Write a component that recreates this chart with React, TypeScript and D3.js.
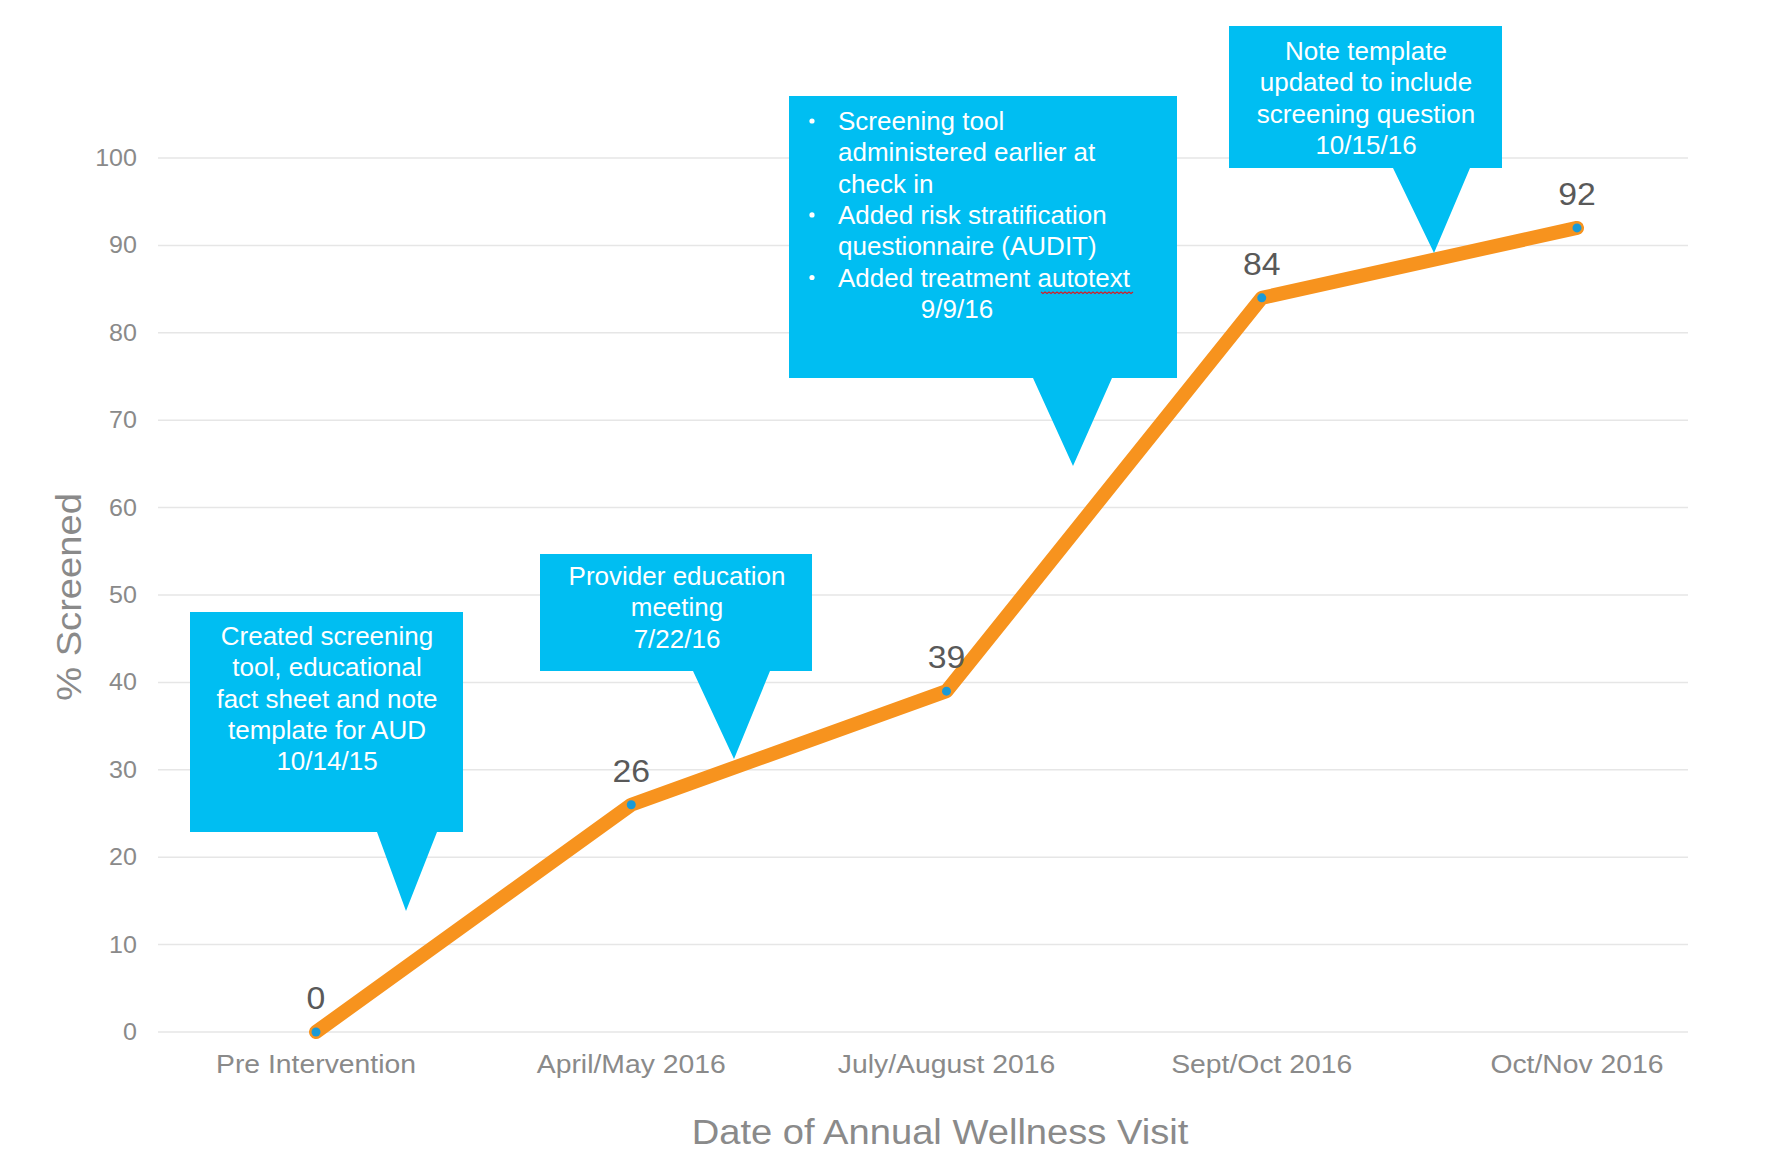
import React from "react";
import * as d3 from "d3";

const categories = ["Pre Intervention", "April/May 2016", "July/August 2016", "Sept/Oct 2016", "Oct/Nov 2016"];
const screened = [0, 26, 39, 84, 92];
const yTicks = [0, 10, 20, 30, 40, 50, 60, 70, 80, 90, 100];
const xTitle = "Date of Annual Wellness Visit";
const yTitle = "% Screened";

const note1 = ["Created screening", "tool, educational", "fact sheet and note", "template for AUD", "10/14/15"];
const note2 = ["Provider education", "meeting", "7/22/16"];
const note3Bullets = [
  ["Screening tool", "administered earlier at", "check in"],
  ["Added risk stratification", "questionnaire (AUDIT)"],
  ["Added treatment autotext"],
];
const note3Date = "9/9/16";
const note4 = ["Note template", "updated to include", "screening question", "10/15/16"];

const W = 1775;
const H = 1153;
const FONT = "'Liberation Sans', Arial, sans-serif";
const CYAN = "#00BEF2";
const STRETCH = 1.09;

function calloutPath(b: { x0: number; x1: number; y0: number; y1: number; t0: number; t1: number; tx: number; ty: number }) {
  return `M${b.x0},${b.y0} L${b.x1},${b.y0} L${b.x1},${b.y1} L${b.t1},${b.y1} L${b.tx},${b.ty} L${b.t0},${b.y1} L${b.x0},${b.y1} Z`;
}

export default function App() {
  const x = d3.scalePoint<string>().domain(categories).range([316, 1577]);
  const y = d3.scaleLinear().domain([0, 100]).range([1032, 158]);
  const gridX0 = 158;
  const gridX1 = 1688;

  const line = d3
    .line<number>()
    .x((_, i) => x(categories[i]) as number)
    .y((d) => y(d));

  const lh = 31.3;

  const c1 = { x0: 190, x1: 463, y0: 612, y1: 832, t0: 377, t1: 437, tx: 406, ty: 911 };
  const c2 = { x0: 540, x1: 812, y0: 554, y1: 671, t0: 693, t1: 770, tx: 734, ty: 759 };
  const c3 = { x0: 789, x1: 1177, y0: 96, y1: 378, t0: 1033, t1: 1112, tx: 1073, ty: 466 };
  const c4 = { x0: 1229, x1: 1502, y0: 26, y1: 168, t0: 1393, t1: 1470, tx: 1434, ty: 253 };

  const n3Lines: { text: string; bullet: boolean }[] = [];
  note3Bullets.forEach((g) => g.forEach((t, i) => n3Lines.push({ text: t, bullet: i === 0 })));

  const sqX0 = 1041;
  const sqX1 = 1132;
  const sqY = 292;
  let sq = `M${sqX0},${sqY}`;
  for (let xx = sqX0, k = 0; xx < sqX1; xx += 2, k++) {
    sq += ` L${xx + 2},${sqY + (k % 2 === 0 ? 1.5 : 0)}`;
  }

  return (
    <svg width={W} height={H} style={{ position: "absolute", left: 0, top: 0, background: "#fff" }} fontFamily={FONT}>
      <rect x={0} y={0} width={W} height={H} fill="#fff" />
      {yTicks.map((t) => (
        <line key={t} x1={gridX0} x2={gridX1} y1={y(t)} y2={y(t)} stroke="#e6e6e6" strokeWidth={1.5} />
      ))}
      {yTicks.map((t) => (
        <text key={"yt" + t} transform={`translate(137,${y(t)}) scale(${STRETCH},1)`} dy="0.35em" textAnchor="end" fontSize={23} fill="#8a8a8a">
          {t}
        </text>
      ))}
      {categories.map((c) => (
        <text key={c} transform={`translate(${x(c)},1073) scale(${STRETCH},1)`} textAnchor="middle" fontSize={26} fill="#8a8a8a">
          {c}
        </text>
      ))}
      <text transform={`translate(940,1144) scale(${STRETCH},1)`} textAnchor="middle" fontSize={35} fill="#8a8a8a">
        {xTitle}
      </text>
      <text transform={`translate(81,597) rotate(-90) scale(${STRETCH},1)`} textAnchor="middle" fontSize={35} fill="#8a8a8a">
        {yTitle}
      </text>

      <path d={line(screened) || ""} fill="none" stroke="#F7931E" strokeWidth={14} strokeLinejoin="round" strokeLinecap="round" />
      {screened.map((v, i) => (
        <circle key={i} cx={x(categories[i])} cy={y(v)} r={4.5} fill="#1A9AD6" />
      ))}
      {screened.map((v, i) => (
        <text key={"l" + i} transform={`translate(${x(categories[i])},${y(v) - 23}) scale(${STRETCH},1)`} textAnchor="middle" fontSize={31} fill="#595959">
          {v}
        </text>
      ))}

      <path d={calloutPath(c1)} fill={CYAN} />
      <path d={calloutPath(c2)} fill={CYAN} />
      <path d={calloutPath(c3)} fill={CYAN} />
      <path d={calloutPath(c4)} fill={CYAN} />

      {note1.map((t, i) => (
        <text key={"n1" + i} x={327} y={645 + i * lh} textAnchor="middle" fontSize={26} fill="#fff">
          {t}
        </text>
      ))}
      {note2.map((t, i) => (
        <text key={"n2" + i} x={677} y={585 + i * lh} textAnchor="middle" fontSize={26} fill="#fff">
          {t}
        </text>
      ))}
      {n3Lines.map((l, i) => (
        <g key={"n3" + i}>
          {l.bullet && <circle cx={812} cy={130 + i * lh - 9} r={2.6} fill="#fff" />}
          <text x={838} y={130 + i * lh} fontSize={26} fill="#fff">
            {l.text}
          </text>
        </g>
      ))}
      <text x={957} y={130 + n3Lines.length * lh} textAnchor="middle" fontSize={26} fill="#fff">
        {note3Date}
      </text>
      <path d={sq} fill="none" stroke="#d0202a" strokeWidth={1.2} />
      {note4.map((t, i) => (
        <text key={"n4" + i} x={1366} y={60 + i * lh} textAnchor="middle" fontSize={26} fill="#fff">
          {t}
        </text>
      ))}
    </svg>
  );
}
